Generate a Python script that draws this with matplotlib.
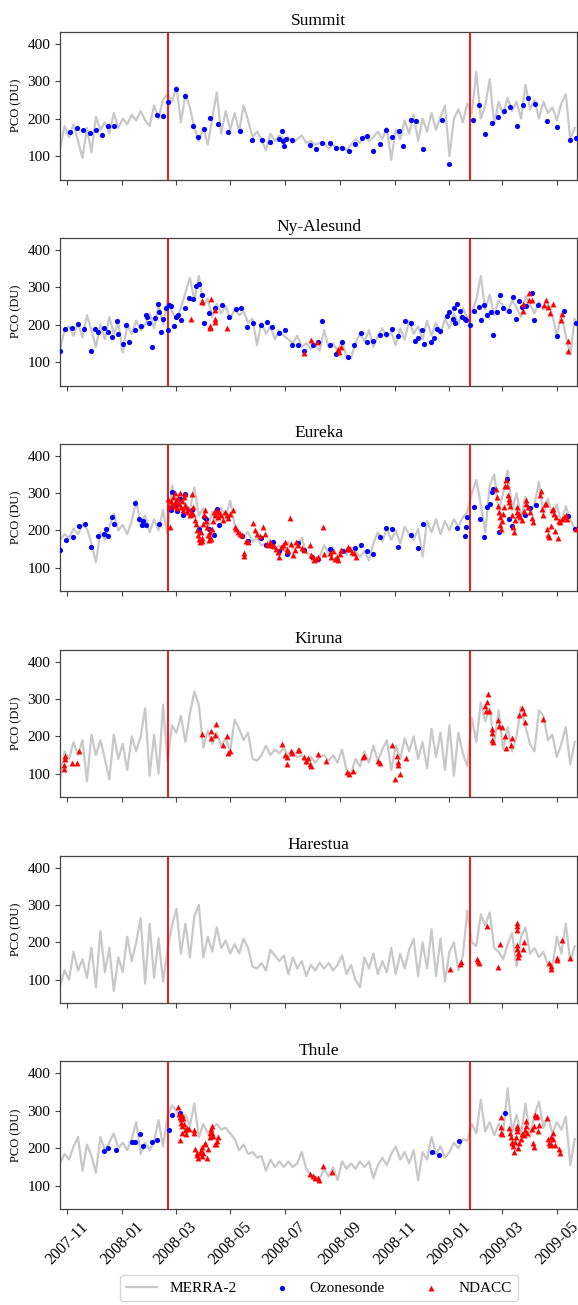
import numpy as np
import pandas as pd
import matplotlib
matplotlib.use("Agg")
import matplotlib.pyplot as plt
import matplotlib.dates as mdates

plt.rcParams['font.family'] = ['Liberation Serif', 'DejaVu Serif']

# ──────────────────────────────────────────────────────────────────────────────
# Data (PCO in DU).  MERRA-2 sampled every 5 days from DAY0,
# sonde / NDACC points given as day offsets from DAY0.
# ──────────────────────────────────────────────────────────────────────────────

DAY0 = "2007-10-24"
MERRA_STEP_DAYS = 5
VORTEX_LINES = ["2008-02-21", "2009-01-24"]
STATIONS = ["Summit", "Ny-Alesund", "Eureka", "Kiruna", "Harestua", "Thule"]

SUMMIT_MERRA = [120, 180, 150, 185, 140, 95, 175, 110, 205, 170, 190, 160, 215, 175, 200, 185, 210, 195, 220, 195,
                180, 235, 200, 250, 265, 245, 285, 190, 265, 230, 175, 140, 175, 130, 200, 270, 160, 220, 170, 215,
                165, 235, 195, 150, 165, 145, 115, 160, 140, 155, 145, 150, 135, 145, 155, 135, 140, 130, 135,
                135, 120, 130, 120, 125, 115, 130, 145, 135, 155, 140, 150, 165, 145, 175, 90, 170, 145, 195, 160,
                210, 140, 200, 165, 215, 170, 205, 235, 100, 200, 225, 190, 240, 215, 325, 200, 235, 305, 185, 245,
                210, 255, 220, 245, 200, 290, 225, 250, 200, 245, 215, 230, 195, 240, 265, 145, 175]
NY_MERRA = [135, 185, 195, 170, 205, 165, 225, 185, 140, 200, 160, 220, 175, 205, 125, 200, 175, 210, 185, 200,
            230, 190, 250, 200, 265, 235, 215, 245, 285, 325, 265, 330, 250, 270, 220, 255, 230, 250, 215, 240,
            225, 235, 205, 215, 145, 205, 175, 195, 160, 185, 170, 160, 150, 170, 140, 150, 135, 145, 130,
            185, 140, 150, 130, 155, 115, 110, 150, 175, 155, 185, 140, 170, 190, 165, 180, 145, 190, 160, 210,
            175, 195, 160, 210, 170, 205, 175, 215, 190, 230, 200, 245, 215, 235, 265, 330, 240, 280, 225, 265,
            250, 230, 265, 245, 220, 275, 255, 230, 260, 240, 255, 225, 170, 230, 170, 120, 215]
EUREKA_MERRA = [175, 190, 180, 205, 190, 215, 205, 165, 115, 195, 175, 210, 245, 200, 215, 190, 225, 280, 215, 240,
                195, 230, 200, 255, 190, 320, 275, 300, 270, 255, 315, 240, 260, 205, 250, 225, 260, 235, 280, 215,
                200, 185, 195, 170, 180, 160, 165, 175, 150, 160, 145, 170, 150, 160, 180, 140, 135, 125, 130,
                160, 140, 155, 130, 150, 135, 155, 145, 130, 145, 120, 165, 195, 170, 205, 175, 200, 165, 210, 190,
                175, 205, 130, 225, 195, 230, 190, 225, 200, 230, 210, 235, 250, 300, 335, 270, 195, 320, 350, 250,
                300, 360, 255, 300, 235, 290, 250, 270, 330, 245, 285, 240, 270, 220, 265, 230, 205]
KIRUNA_MERRA = [90, 160, 140, 185, 150, 190, 80, 205, 150, 190, 140, 85, 205, 140, 180, 110, 200, 160, 200, 275,
                95, 205, 100, 285, 135, 230, 210, 255, 185, 260, 320, 285, 170, 215, 180, 210, 175, 195, 160, 245,
                220, 190, 210, 140, 135, 150, 175, 150, 165, 155, 170, 145, 160, 145, 150, 125, 145, 130, 145,
                150, 135, 150, 130, 165, 110, 100, 140, 120, 160, 130, 175, 135, 165, 190, 110, 175, 140, 195, 160,
                200, 140, 185, 115, 220, 145, 210, 110, 230, 95, 210, 155, 120, 250, 185, 290, 240, 275, 180, 270,
                165, 225, 160, 200, 280, 225, 180, 160, 270, 255, 190, 205, 145, 180, 225, 125, 185]
HARESTUA_MERRA = [85, 125, 100, 175, 125, 155, 105, 185, 80, 230, 120, 185, 70, 160, 120, 215, 150, 200, 265, 90,
                  250, 105, 210, 95, 180, 245, 290, 170, 250, 160, 270, 300, 160, 215, 175, 240, 185, 205, 170, 195,
                  170, 210, 185, 135, 130, 145, 125, 180, 165, 150, 165, 115, 160, 130, 150, 110, 140, 125, 145,
                  130, 145, 125, 140, 165, 115, 140, 100, 80, 160, 130, 170, 115, 150, 120, 185, 115, 170, 130, 180,
                  210, 110, 200, 130, 235, 110, 210, 95, 175, 200, 125, 165, 285, 200, 190, 275, 245, 280, 185, 175,
                  155, 195, 225, 135, 215, 240, 170, 185, 160, 175, 140, 135, 215, 170, 250, 150, 190]
THULE_MERRA = [160, 185, 170, 205, 230, 140, 210, 180, 135, 230, 195, 215, 240, 200, 215, 195, 225, 270, 185, 215,
               195, 220, 275, 205, 285, 315, 300, 270, 290, 260, 320, 230, 265, 240, 255, 265, 250, 255, 240, 225,
               195, 210, 185, 190, 175, 180, 140, 170, 150, 165, 150, 165, 150, 160, 190, 145, 130, 125, 120,
               145, 125, 150, 115, 165, 145, 160, 145, 165, 150, 165, 120, 155, 175, 155, 185, 205, 170, 190, 160,
               195, 115, 190, 170, 230, 185, 205, 175, 190, 215, 200, 225, 220, 265, 240, 330, 245, 270, 235, 265,
               240, 360, 245, 290, 235, 320, 230, 290, 325, 255, 285, 240, 270, 250, 285, 155, 225]

SUMMIT_SONDE_DAY = [11, 19, 26, 33, 40, 47, 54, 60, 108, 115, 121, 129, 140, 148, 154, 161, 167, 176, 188, 201,
                    214, 226, 234, 245, 248, 249, 250, 252, 259, 279, 286, 293, 301, 308, 315, 323, 330, 337, 343, 350,
                    357, 364, 371, 379, 383, 392, 398, 405, 427, 434, 461, 468, 475, 482, 489, 496, 503, 510, 517, 523,
                    531, 544, 555, 570, 576]
SUMMIT_SONDE_PCO = [163, 176, 170, 161, 169, 156, 180, 179, 210, 206, 245, 279, 259, 180, 150, 172, 202, 185, 163, 166,
                    143, 144, 137, 145, 166, 141, 128, 145, 144, 129, 118, 136, 136, 122, 120, 112, 133, 149, 154, 114,
                    133, 170, 151, 167, 127, 196, 194, 118, 196, 79, 196, 237, 158, 187, 205, 220, 230, 181, 237, 256,
                    240, 194, 178, 142, 149]
SUMMIT_NDACC_DAY = []
SUMMIT_NDACC_PCO = []

NY_SONDE_DAY = [0, 6, 13, 20, 27, 34, 39, 42, 49, 53, 58, 64, 65, 70, 74, 77, 84, 90, 96, 97,
                99, 103, 106, 109, 111, 113, 115, 118, 120, 122, 124, 127, 129, 132, 135, 139, 144, 149, 152, 155,
                158, 161, 166, 173, 181, 189, 196, 202, 209, 216, 225, 231, 237, 245, 251, 259, 266, 272, 282, 288,
                293, 301, 308, 315, 322, 328, 336, 343, 350, 357, 364, 371, 378, 385, 392, 397, 400, 404, 407, 414,
                418, 421, 425, 432, 435, 439, 440, 441, 444, 447, 449, 452, 454, 458, 462, 468, 470, 474, 477, 481,
                484, 488, 492, 495, 502, 506, 509, 513, 516, 521, 527, 530, 534, 555, 563, 576]
NY_SONDE_PCO = [129, 187, 192, 202, 189, 129, 189, 180, 192, 179, 167, 209, 175, 149, 199, 154, 186, 197, 226, 219,
                204, 139, 217, 254, 233, 179, 216, 245, 185, 251, 249, 197, 220, 226, 212, 243, 270, 268, 302, 309,
                278, 204, 232, 243, 251, 220, 241, 245, 193, 204, 199, 206, 194, 177, 184, 145, 145, 128, 146, 153,
                209, 145, 121, 152, 113, 145, 176, 154, 155, 173, 174, 187, 168, 209, 204, 155, 163, 184, 147, 154,
                165, 189, 182, 223, 233, 215, 243, 204, 254, 237, 220, 214, 213, 200, 236, 246, 211, 252, 226, 234,
                171, 234, 280, 243, 237, 274, 215, 264, 246, 250, 285, 213, 253, 170, 237, 203]
NY_NDACC_DAY = [146, 158, 158, 167, 168, 168, 169, 173, 173, 173, 186, 272, 280, 287, 310, 312, 314,
                517, 517, 524, 524, 527, 541, 543, 545, 547, 551, 560, 561, 567, 568]
NY_NDACC_PCO = [216, 259, 262, 194, 190, 197, 268, 215, 206, 240, 191, 123, 158, 153, 135, 126, 139,
                256, 237, 283, 266, 265, 253, 266, 246, 230, 256, 211, 229, 128, 155]

EUREKA_SONDE_DAY = [0, 7, 14, 21, 28, 35, 42, 49, 51, 54, 58, 60, 84, 88, 91, 93, 96, 110, 123, 124,
                    125, 129, 131, 134, 137, 140, 147, 155, 161, 163, 166, 172, 175, 177, 203, 210, 225, 230, 238, 245,
                    253, 266, 273, 281, 288, 301, 316, 329, 336, 343, 350, 357, 364, 371, 378, 392, 400, 406, 443, 452,
                    453, 455, 462, 469, 474, 477, 480, 483, 484, 490, 499, 502, 505, 519, 525, 532, 568, 575]
EUREKA_SONDE_PCO = [148, 175, 182, 212, 218, 156, 185, 191, 203, 186, 235, 218, 273, 231, 214, 225, 214, 216, 260, 255,
                    303, 267, 252, 285, 240, 297, 254, 203, 235, 230, 204, 188, 257, 214, 185, 173, 180, 161, 170, 146,
                    138, 167, 148, 129, 124, 151, 145, 153, 162, 146, 137, 182, 206, 203, 156, 187, 152, 217, 207, 186,
                    208, 235, 262, 231, 182, 262, 272, 304, 311, 195, 338, 231, 212, 241, 261, 269, 238, 203]
EUREKA_NDACC_DAY = [121, 122, 123, 124, 125, 126, 127, 128, 129, 130, 131, 132, 133, 134, 135, 136, 137, 138, 139, 140,
                    141, 142, 143, 145, 146, 147, 148, 149, 151, 152, 153, 154, 155, 156, 157, 158, 159, 160, 161, 162,
                    163, 164, 165, 166, 167, 168, 169, 170, 171, 172, 173, 175, 176, 178, 180, 182, 184, 186, 188, 190,
                    193, 195, 197, 199, 201, 203, 205, 206, 208, 210, 216, 218, 220, 223, 227, 229, 231, 233, 235, 237,
                    239, 241, 243, 245, 247, 249, 251, 253, 255, 257, 258, 260, 262, 264, 266, 270, 272, 279, 280, 282,
                    284, 286, 288, 294, 295, 301, 303, 305, 307, 309, 311, 313, 314, 320, 322, 324, 326, 328, 331,
                    487, 488, 489, 490, 491, 492, 493, 494, 495, 496, 497, 498, 499, 500, 501, 502, 503, 505, 506, 507,
                    508, 510, 511, 512, 513, 514, 516, 518, 520, 521, 523, 525, 527, 528, 536, 537, 538, 540, 542, 543,
                    544, 545, 546, 548, 550, 551, 552, 553, 554, 556, 557, 559, 561, 563, 565, 566, 576]
EUREKA_NDACC_PCO = [285, 262, 208, 278, 270, 290, 265, 300, 282, 275, 260, 288, 270, 300, 262, 280, 255, 290, 268, 298,
                    262, 250, 258, 240, 250, 298, 262, 245, 228, 218, 200, 188, 178, 168, 195, 180, 172, 218, 240, 255,
                    225, 208, 188, 175, 182, 195, 178, 205, 225, 248, 240, 255, 235, 248, 240, 228, 250, 242, 232, 245,
                    256, 210, 205, 195, 190, 188, 140, 132, 172, 168, 219, 200, 190, 185, 208, 190, 165, 160, 170, 162,
                    158, 150, 142, 128, 155, 160, 168, 150, 145, 233, 165, 135, 148, 170, 160, 152, 148, 160, 135, 130,
                    122, 125, 128, 210, 137, 140, 130, 145, 125, 128, 120, 138, 148, 150, 155, 150, 143, 140, 130,
                    312, 290, 265, 250, 235, 215, 205, 225, 245, 262, 320, 335, 318, 296, 285, 275, 265, 240, 210, 195,
                    228, 262, 250, 240, 245, 235, 228, 253, 282, 270, 262, 248, 232, 222, 295, 305, 258, 240, 270, 270,
                    205, 188, 183, 212, 255, 258, 245, 198, 235, 180, 225, 222, 230, 235, 240, 230, 203]

KIRUNA_SONDE_DAY = []
KIRUNA_SONDE_PCO = []
KIRUNA_NDACC_DAY = [4, 4, 5, 6, 13, 19, 21, 159, 169, 169, 173, 174, 182, 186, 188, 190, 248, 251, 253, 254,
                    258, 259, 266, 267, 273, 275, 277, 279, 280, 288, 297, 321, 323, 327, 338, 340, 355, 357, 371, 374,
                    376, 377, 378, 380, 386, 475, 476, 477, 478, 479, 482, 482, 483, 484, 489, 490, 494, 497, 498, 504,
                    505, 513, 516, 518, 519, 539]
KIRUNA_NDACC_PCO = [124, 113, 148, 141, 130, 128, 162, 206, 215, 195, 204, 233, 177, 200, 155, 160, 180, 151, 127, 146,
                    162, 157, 165, 164, 146, 135, 142, 126, 122, 153, 135, 104, 100, 108, 146, 148, 135, 129, 178, 85,
                    147, 131, 124, 99, 142, 280, 267, 291, 313, 267, 220, 191, 209, 184, 243, 228, 225, 202, 170, 177,
                    197, 257, 276, 263, 238, 247]

HARESTUA_SONDE_DAY = []
HARESTUA_SONDE_PCO = []
HARESTUA_NDACC_DAY = [436, 447, 448, 466, 467, 468, 477, 489, 491, 510, 510, 511, 511, 511, 512, 512, 513, 517, 518,
                      546, 548, 549, 555, 555, 561, 570]
HARESTUA_NDACC_PCO = [129, 141, 148, 155, 150, 145, 243, 134, 195, 252, 234, 245, 194, 182, 171, 160, 168, 181, 200,
                      146, 136, 128, 152, 159, 207, 157]

THULE_SONDE_DAY = [49, 54, 62, 80, 84, 89, 93, 103, 108, 122, 125, 134, 416, 423, 446, 497]
THULE_SONDE_PCO = [192, 201, 196, 218, 217, 237, 207, 217, 222, 249, 289, 294, 189, 183, 219, 295]
THULE_NDACC_DAY = [132, 133, 134, 135, 135, 136, 137, 138, 136, 134, 136, 140, 141, 142, 144, 150, 150, 151, 153, 153,
                   154, 156, 157, 158, 159, 160, 162, 162, 164, 165, 167, 168, 169, 170, 170, 171, 173, 174, 175, 176,
                   279, 283, 285, 288, 289, 294, 304,
                   493, 493, 493, 494, 502, 503, 504, 505, 505, 506, 507, 508, 509, 510, 510, 511, 512, 513, 515, 516,
                   518, 519, 520, 521, 522, 527, 528, 529, 530, 531, 532, 533, 534, 535, 544, 545, 546, 547, 548, 549,
                   551, 551, 553, 557, 558]
THULE_NDACC_PCO = [311, 291, 285, 278, 269, 288, 281, 264, 260, 221, 242, 249, 237, 254, 251, 248, 240, 197, 183, 188,
                   174, 187, 196, 179, 204, 188, 215, 211, 173, 197, 229, 242, 251, 260, 242, 233, 211, 211, 220, 229,
                   132, 126, 121, 121, 115, 153, 138,
                   284, 258, 240, 237, 254, 242, 231, 217, 215, 205, 189, 217, 229, 246, 260, 254, 202, 215, 224, 237,
                   235, 249, 273, 260, 242, 251, 215, 204, 260, 290, 283, 287, 246, 263, 280, 224, 215, 209, 231, 211,
                   224, 240, 208, 198, 188]

MERRA = [SUMMIT_MERRA, NY_MERRA, EUREKA_MERRA, KIRUNA_MERRA, HARESTUA_MERRA, THULE_MERRA]
SONDE_DAY = [SUMMIT_SONDE_DAY, NY_SONDE_DAY, EUREKA_SONDE_DAY, KIRUNA_SONDE_DAY, HARESTUA_SONDE_DAY, THULE_SONDE_DAY]
SONDE_PCO = [SUMMIT_SONDE_PCO, NY_SONDE_PCO, EUREKA_SONDE_PCO, KIRUNA_SONDE_PCO, HARESTUA_SONDE_PCO, THULE_SONDE_PCO]
NDACC_DAY = [SUMMIT_NDACC_DAY, NY_NDACC_DAY, EUREKA_NDACC_DAY, KIRUNA_NDACC_DAY, HARESTUA_NDACC_DAY, THULE_NDACC_DAY]
NDACC_PCO = [SUMMIT_NDACC_PCO, NY_NDACC_PCO, EUREKA_NDACC_PCO, KIRUNA_NDACC_PCO, HARESTUA_NDACC_PCO, THULE_NDACC_PCO]

# ──────────────────────────────────────────────────────────────────────────────
# Plot
# ──────────────────────────────────────────────────────────────────────────────

t0 = pd.Timestamp(DAY0)


def to_dates(days):
    return t0 + pd.to_timedelta(np.asarray(days, dtype=float), unit="D")


fig, axes = plt.subplots(6, 1, figsize=(5.78, 13.05), dpi=100, sharex=True, sharey=True)
fig.subplots_adjust(left=0.104, right=0.999, top=0.9757, bottom=0.0733, hspace=0.393)

for i, ax in enumerate(axes):
    merra_t = pd.date_range(DAY0, periods=len(MERRA[i]), freq=f"{MERRA_STEP_DAYS}D")
    ax.plot(merra_t, MERRA[i], color="#c8c8c8", lw=1.6, zorder=1, label="MERRA-2")
    for d in VORTEX_LINES:
        ax.axvline(pd.Timestamp(d), color="red", lw=1.3, zorder=2)
    ax.scatter(to_dates(SONDE_DAY[i]), SONDE_PCO[i], s=14, marker="o", color="blue",
               linewidths=0, zorder=3, label="Ozonesonde")
    ax.scatter(to_dates(NDACC_DAY[i]), NDACC_PCO[i], s=18, marker="^", color="red",
               linewidths=0, zorder=4, label="NDACC")

    ax.set_title(STATIONS[i], fontsize=12.5, pad=5)
    ax.set_ylabel("PCO (DU)", fontsize=9)
    ax.set_ylim(37, 432)
    ax.set_yticks([100, 200, 300, 400])
    ax.set_xlim(pd.Timestamp("2007-10-24"), pd.Timestamp("2009-05-24"))
    ax.tick_params(axis="y", labelsize=11, length=3.5, color="#444")
    ax.tick_params(axis="x", labelsize=11.5, length=3.5, color="#444")
    for sp in ax.spines.values():
        sp.set_color("#444")
        sp.set_linewidth(0.9)

axes[-1].xaxis.set_major_locator(mdates.MonthLocator(bymonth=[1, 3, 5, 7, 9, 11]))
axes[-1].xaxis.set_major_formatter(mdates.DateFormatter("%Y-%m"))
plt.setp(axes[-1].get_xticklabels(), rotation=45)

handles, labels = axes[1].get_legend_handles_labels()
fig.legend(handles, labels, loc="lower center", ncol=3, fontsize=11,
           bbox_to_anchor=(0.552, 0.0), borderaxespad=0.25,
           columnspacing=2.0, handlelength=2.0)

fig.savefig("out.png", dpi=100)
